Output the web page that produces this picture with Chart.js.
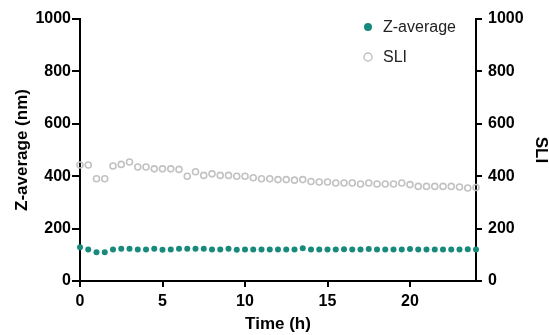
<!DOCTYPE html>
<html>
<head>
<meta charset="utf-8">
<script src="https://cdn.jsdelivr.net/npm/chart.js@4.4.0/dist/chart.umd.min.js"></script>
<style>
html,body{margin:0;padding:0;background:#fff;}
#wrap{width:549px;height:335px;position:relative;}
</style>
</head>
<body>
<div id="wrap"><canvas id="c" width="549" height="335"></canvas></div>
<script>
const timeH = [0,0.5,1,1.5,2,2.5,3,3.5,4,4.5,5,5.5,6,6.5,7,7.5,8,8.5,9,9.5,10,10.5,11,11.5,12,12.5,13,13.5,14,14.5,15,15.5,16,16.5,17,17.5,18,18.5,19,19.5,20,20.5,21,21.5,22,22.5,23,23.5,24];
const zAverage = [129,120,110,110,120,123,123,120,120,123,119,120,123,123,123,123,120,120,123,119,120,120,120,120,120,120,120,125,120,120,120,120,121,120,120,122,120,120,120,120,122,120,120,120,120,120,120,121,120];
const sli = [443,443,390,390,439,445,454,435,435,428,428,428,426,400,417,403,409,403,403,400,400,394,390,390,387,387,385,387,380,378,378,374,374,374,370,374,370,370,370,374,368,361,361,361,361,361,359,355,357];
const xTicks = [0,5,10,15,20];
const yTicks = [0,200,400,600,800,1000];
const seriesNames = ['Z-average','SLI'];
const teal = '#178a7d';
const grey = '#c2c2c2';

const FF = '"Liberation Sans", Arial, sans-serif';
const tickFont = {family:FF, size:16, weight:'bold'};
const titleFont = {family:FF, size:17, weight:'bold', lineHeight:1};

const legendPlugin = {
  id:'customLegend',
  afterDraw(chart){
    const ctx = chart.ctx;
    const ds = chart.data.datasets;
    const rows = [27, 57];
    ctx.save();
    ds.forEach((d,i)=>{
      const y = rows[i];
      ctx.beginPath();
      ctx.arc(368, y, 4, 0, Math.PI*2);
      if(i===0){ctx.fillStyle=d.pointBackgroundColor;ctx.fill();}
      else {ctx.lineWidth=1.5;ctx.strokeStyle=d.pointBorderColor;ctx.stroke();}
      ctx.fillStyle='#222';
      ctx.font='16px ' + FF;
      ctx.textBaseline='middle';
      ctx.textAlign='left';
      ctx.fillText(d.label, 383, y+1);
    });
    ctx.restore();
  }
};

const plain = v => String(v);

new Chart(document.getElementById('c'), {
  type:'scatter',
  data:{
    datasets:[
      {label:seriesNames[0], data:timeH.map((t,i)=>({x:t,y:zAverage[i]})), yAxisID:'y',
       pointRadius:3, pointBackgroundColor:teal, pointBorderColor:teal, pointBorderWidth:0, clip:false},
      {label:seriesNames[1], data:timeH.map((t,i)=>({x:t,y:sli[i]})), yAxisID:'y2',
       pointRadius:3, pointBackgroundColor:'rgba(0,0,0,0)', pointBorderColor:grey, pointBorderWidth:1.6, clip:false}
    ]
  },
  options:{
    responsive:false, animation:false,
    layout:{padding:{top:19,left:0,right:0,bottom:0}},
    plugins:{legend:{display:false}, tooltip:{enabled:false}},
    scales:{
      x:{type:'linear', min:0, max:24,
        afterBuildTicks:s=>{s.ticks = xTicks.map(v=>({value:v}));},
        afterFit:s=>{s.height=54;},
        border:{display:true,color:'#000',width:2},
        grid:{drawOnChartArea:false, color:'#000', lineWidth:2, tickLength:6},
        ticks:{color:'#000', font:tickFont, padding:5, maxRotation:0, callback:plain},
        title:{display:true, text:'Time (h)', color:'#000', font:titleFont, padding:{top:0,bottom:2}}
      },
      y:{type:'linear', position:'left', min:0, max:1000,
        afterBuildTicks:s=>{s.ticks = yTicks.map(v=>({value:v}));},
        afterFit:s=>{s.width=80;},
        border:{display:true,color:'#000',width:2},
        grid:{drawOnChartArea:false, color:'#000', lineWidth:2, tickLength:8},
        ticks:{color:'#000', font:tickFont, padding:1, callback:plain},
        title:{display:true, text:'Z-average (nm)', color:'#000', font:titleFont, padding:{top:14,bottom:0}}
      },
      y2:{type:'linear', position:'right', min:0, max:1000,
        afterBuildTicks:s=>{s.ticks = yTicks.map(v=>({value:v}));},
        afterFit:s=>{s.width=73;},
        border:{display:true,color:'#000',width:2},
        grid:{drawOnChartArea:false, color:'#000', lineWidth:2, tickLength:6},
        ticks:{color:'#000', font:tickFont, padding:6, callback:plain},
        title:{display:true, text:'SLI', color:'#000', font:titleFont, padding:{top:0,bottom:0}}
      }
    }
  },
  plugins:[legendPlugin]
});
</script>
</body>
</html>
